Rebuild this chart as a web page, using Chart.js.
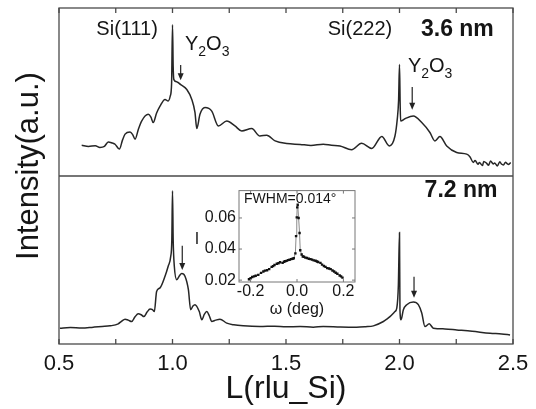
<!DOCTYPE html>
<html>
<head>
<meta charset="utf-8">
<script src="https://cdn.jsdelivr.net/npm/chart.js@4/dist/chart.umd.min.js"></script>
<style>
  body { margin: 0; background: #fff; }
  #wrap { position: relative; width: 536px; height: 409px; }
  #main { position: absolute; left: 0; top: 0; }
  #inset { position: absolute; left: 185px; top: 178px; }
</style>
</head>
<body>
<div id="wrap">
  <canvas id="main" width="536" height="409"></canvas>
  <canvas id="inset" width="180" height="145"></canvas>
</div>
<script>
// datos (L en rlu_Si, intensidad en u.a.)
const xTickLabels = ['0.5', '1.0', '1.5', '2.0', '2.5']

// 3.6 nm (panel de arriba)
const lTop = [0.60, 0.63, 0.66, 0.68, 0.70, 0.717, 0.735, 0.747, 0.766, 0.78, 0.791, 0.813, 0.825, 0.835, 0.85, 0.864,
  0.893, 0.905, 0.915, 0.93, 0.945, 0.967, 0.981, 0.990, 0.996, 1.0, 1.003, 1.006, 1.02, 1.036, 1.063, 1.085, 1.099,
  1.107, 1.121, 1.143, 1.173, 1.202, 1.239, 1.275, 1.305, 1.349, 1.385, 1.415, 1.452, 1.503, 1.562, 1.61, 1.664, 1.70,
  1.738, 1.789, 1.833, 1.878, 1.922, 1.955, 1.980, 1.990, 1.996, 2.0, 2.003, 2.005, 2.024, 2.061, 2.098, 2.134, 2.156,
  2.178, 2.208, 2.252, 2.296, 2.31, 2.325, 2.333, 2.346, 2.352, 2.366, 2.371, 2.384, 2.392, 2.401, 2.413, 2.419, 2.431,
  2.442, 2.449, 2.458, 2.467, 2.474, 2.481, 2.49]
const intTop = [18.3, 17.6, 18.0, 17.0, 17.6, 20.3, 19.6, 18.9, 16.0, 21.5, 24.9, 26.2, 24.5, 21.9, 28.0, 32.7,
  36.7, 35.0, 31.8, 37.5, 41.6, 45.6, 44.6, 47.5, 55, 90, 65, 57.4, 56.0, 54.4, 51.5, 45.6, 37.9,
  28.2, 36.7, 40.7, 38.6, 29.8, 32.7, 29.8, 26.8, 28.2, 23.8, 24.3, 20.9, 19.3, 18.8, 18.2, 18.9, 18.3,
  17.9, 15.6, 19.5, 16.4, 23.5, 17.9, 23.8, 33.7, 45, 66.3, 42, 32.7, 34.1, 35.7, 31.8, 25.9, 20.9,
  23.5, 17.9, 14.0, 13.0, 11.5, 8.1, 9.3, 7.0, 8.0, 6.2, 8.7, 7.5, 6.4, 8.9, 7.2, 7.8, 6.0,
  8.5, 7.1, 6.6, 8.2, 7.4, 6.9, 8.0]

// 7.2 nm (panel de abajo)
const lBot = [0.504, 0.55, 0.60, 0.651, 0.69, 0.725, 0.761, 0.775, 0.791, 0.805, 0.820, 0.835, 0.849, 0.862, 0.874,
  0.888, 0.901, 0.912, 0.920, 0.930, 0.945, 0.967, 0.981, 0.992, 0.997, 1.0, 1.003, 1.008, 1.019, 1.030, 1.041, 1.055,
  1.070, 1.080, 1.090, 1.099, 1.118, 1.129, 1.140, 1.151, 1.162, 1.173, 1.19, 1.209, 1.239, 1.27, 1.312, 1.385, 1.45,
  1.50, 1.562, 1.62, 1.664, 1.74, 1.811, 1.85, 1.885, 1.929, 1.944, 1.958, 1.980, 1.988, 1.995, 2.0, 2.002, 2.007,
  2.017, 2.032, 2.061, 2.083, 2.098, 2.112, 2.131, 2.149, 2.2, 2.252, 2.32, 2.399, 2.45, 2.487]
const intBot = [9.4, 9.8, 9.5, 10.0, 10.4, 10.8, 12.0, 13.5, 14.8, 14.2, 13.4, 16.2, 18.0, 17.4, 16.3,
  19.0, 20.8, 20.4, 19.3, 31.3, 33.4, 40.3, 46.3, 52, 62, 91.2, 62, 46.3, 38.3, 40.5, 41.9, 40.3,
  32.3, 20.4, 22.6, 23.4, 19.3, 14.4, 17.6, 19.3, 16.8, 13.4, 14.2, 14.8, 12.4, 11.4, 10.8, 10.4, 10.6,
  10.2, 10.4, 10.0, 10.4, 10.1, 10.0, 10.3, 10.8, 13.4, 14.8, 16.3, 19.3, 21.4, 35, 66.3, 20.4, 14.4,
  20.4, 23.4, 25.0, 23.4, 18.4, 10.4, 12.0, 9.4, 9.0, 8.4, 7.6, 6.4, 6.0, 5.4]

// inset: rocking curve
const omega = [-0.207, -0.200, -0.193, -0.185, -0.178, -0.167, -0.155, -0.145, -0.138, -0.129, -0.120, -0.109, -0.103,
  -0.097, -0.087, -0.080, -0.073, -0.062, -0.056, -0.051, -0.045, -0.039, -0.032, -0.025, -0.019, -0.014, -0.007,
  -0.004, -0.001, 0.001, 0.003, 0.007, 0.011, 0.014, 0.020, 0.025, 0.030, 0.036, 0.043, 0.051, 0.058, 0.065, 0.072,
  0.080, 0.086, 0.091, 0.101, 0.108, 0.116, 0.123, 0.130, 0.138, 0.145, 0.153, 0.160, 0.167, 0.174, 0.184, 0.190, 0.196]
const insetI = [0.0206, 0.0212, 0.0220, 0.0224, 0.0228, 0.0234, 0.0247, 0.0256, 0.0261, 0.0264, 0.0271, 0.0285, 0.0290,
  0.0297, 0.0305, 0.0309, 0.0315, 0.0311, 0.0318, 0.0321, 0.0324, 0.0329, 0.0331, 0.0335, 0.0338, 0.0341, 0.0372,
  0.0483, 0.0604, 0.0668, 0.0685, 0.0600, 0.0503, 0.0392, 0.0365, 0.0352, 0.0350, 0.0345, 0.0342, 0.0338, 0.0335, 0.0332, 0.0327,
  0.0325, 0.0320, 0.0317, 0.0311, 0.0300, 0.0291, 0.0285, 0.0277, 0.0275, 0.0271, 0.0262, 0.0256, 0.0248, 0.0241, 0.0230, 0.0224, 0.0216]

const fam = "'Liberation Sans', Arial, sans-serif"
Chart.defaults.font.family = fam
Chart.defaults.color = '#151515'

const toPoints = (xs, ys) => xs.map((x, i) => ({ x: x, y: ys[i] }))

function drawY2O3(ctx, x, y) {
  ctx.textAlign = 'left'
  ctx.textBaseline = 'alphabetic'
  const parts = [['Y', 20, 0], ['2', 14, 6], ['O', 20, 0], ['3', 14, 6]]
  parts.forEach(p => {
    ctx.font = p[1] + 'px ' + fam
    ctx.fillText(p[0], x, y + p[2])
    x += ctx.measureText(p[0]).width
  })
}

function drawArrow(ctx, x, y0, y1) {
  ctx.beginPath()
  ctx.moveTo(x, y0)
  ctx.lineTo(x, y1 - 5)
  ctx.stroke()
  ctx.beginPath()
  ctx.moveTo(x - 3, y1 - 7)
  ctx.lineTo(x + 3, y1 - 7)
  ctx.lineTo(x, y1)
  ctx.closePath()
  ctx.fill()
}

// marco, ticks hacia adentro y anotaciones
const framePlugin = {
  id: 'frame',
  afterDraw(chart) {
    const { ctx, chartArea: a, scales } = chart
    const x = scales.x, yTop = scales.yTop, yBot = scales.yBot
    ctx.save()
    ctx.strokeStyle = '#4a4a4a'
    ctx.lineWidth = 1.3
    ctx.strokeRect(a.left, a.top, a.width, a.height)
    ctx.beginPath()
    ctx.moveTo(a.left, yTop.bottom)
    ctx.lineTo(a.right, yTop.bottom)
    x.ticks.forEach(t => {
      const px = x.getPixelForValue(t.value)
      ctx.moveTo(px, a.top)
      ctx.lineTo(px, a.top + 5)
      ctx.moveTo(px, a.bottom)
      ctx.lineTo(px, a.bottom - 5)
    })
    ctx.stroke()

    // titulo eje y
    ctx.save()
    ctx.translate(a.left - 21, (a.top + a.bottom) / 2 - 10)
    ctx.rotate(-Math.PI / 2)
    ctx.font = '31px ' + fam
    ctx.fillStyle = '#151515'
    ctx.textAlign = 'center'
    ctx.textBaseline = 'alphabetic'
    ctx.fillText('Intensity(a.u.)', 0, 0)
    ctx.restore()

    ctx.fillStyle = '#151515'
    ctx.textBaseline = 'middle'
    ctx.textAlign = 'center'
    ctx.font = '20px ' + fam
    ctx.fillText('Si(111)', x.getPixelForValue(0.80), yTop.getPixelForValue(87))
    ctx.fillText('Si(222)', x.getPixelForValue(1.826), yTop.getPixelForValue(87))
    ctx.font = 'bold 23px ' + fam
    ctx.fillText('3.6 nm', x.getPixelForValue(2.255), yTop.getPixelForValue(87))
    ctx.fillText('7.2 nm', x.getPixelForValue(2.271), yBot.getPixelForValue(91))

    drawY2O3(ctx, x.getPixelForValue(1.055), yTop.getPixelForValue(75))
    drawY2O3(ctx, x.getPixelForValue(2.037), yTop.getPixelForValue(62))

    ctx.strokeStyle = '#222'
    ctx.fillStyle = '#222'
    ctx.lineWidth = 1.2
    drawArrow(ctx, x.getPixelForValue(1.036), yTop.getPixelForValue(66), yTop.getPixelForValue(57))
    drawArrow(ctx, x.getPixelForValue(2.056), yTop.getPixelForValue(53), yTop.getPixelForValue(39.5))
    drawArrow(ctx, x.getPixelForValue(1.043), yBot.getPixelForValue(58.5), yBot.getPixelForValue(44))
    drawArrow(ctx, x.getPixelForValue(2.064), yBot.getPixelForValue(40), yBot.getPixelForValue(27.5))
    ctx.restore()
  }
}

const mainChart = new Chart(document.getElementById('main'), {
  type: 'line',
  data: {
    datasets: [
      { label: '3.6 nm', data: toPoints(lTop, intTop), yAxisID: 'yTop', borderColor: '#262626', borderWidth: 1.5, pointRadius: 0, cubicInterpolationMode: 'monotone' },
      { label: '7.2 nm', data: toPoints(lBot, intBot), yAxisID: 'yBot', borderColor: '#262626', borderWidth: 1.5, pointRadius: 0, cubicInterpolationMode: 'monotone' }
    ]
  },
  options: {
    responsive: false,
    animation: false,
    layout: { padding: { top: 8, right: 23, left: 0, bottom: 0 } },
    plugins: { legend: { display: false }, tooltip: { enabled: false } },
    scales: {
      x: {
        type: 'linear', min: 0.5, max: 2.5,
        ticks: {
          stepSize: 0.25, autoSkip: false, maxRotation: 0, padding: 7,
          font: { size: 22 }, color: '#151515',
          callback: v => xTickLabels.find(s => Math.abs(parseFloat(s) - v) < 1e-6) || ''
        },
        grid: { display: false, drawTicks: false },
        border: { display: false },
        title: { display: true, text: 'L(rlu_Si)', font: { size: 32 }, color: '#151515', padding: { top: 0, bottom: 1 } },
        afterFit: s => { s.height = 65 }
      },
      yBot: {
        type: 'linear', min: 0, max: 100, position: 'left', stack: 'panels', stackWeight: 1,
        ticks: { display: false }, grid: { display: false, drawTicks: false }, border: { display: false },
        afterFit: s => { s.width = 59 }
      },
      yTop: {
        type: 'linear', min: 0, max: 100, position: 'left', stack: 'panels', stackWeight: 1,
        ticks: { display: false }, grid: { display: false, drawTicks: false }, border: { display: false },
        afterFit: s => { s.width = 59 }
      }
    }
  },
  plugins: [framePlugin]
})

// inset
const insetPlugin = {
  id: 'insetFrame',
  afterDraw(chart) {
    const { ctx, chartArea: a, scales } = chart
    ctx.save()
    ctx.strokeStyle = '#777'
    ctx.lineWidth = 1
    ctx.strokeRect(a.left, a.top, a.width, a.height)
    ctx.beginPath()
    scales.x.ticks.forEach(t => {
      const px = scales.x.getPixelForValue(t.value)
      ctx.moveTo(px, a.bottom); ctx.lineTo(px, a.bottom - 3)
      ctx.moveTo(px, a.top); ctx.lineTo(px, a.top + 3)
    })
    scales.y.ticks.forEach(t => {
      const py = scales.y.getPixelForValue(t.value)
      ctx.moveTo(a.left, py); ctx.lineTo(a.left + 3, py)
      ctx.moveTo(a.right, py); ctx.lineTo(a.right - 3, py)
    })
    ctx.stroke()
    ctx.fillStyle = '#151515'
    ctx.font = '14px ' + fam
    ctx.textAlign = 'left'
    ctx.textBaseline = 'alphabetic'
    ctx.fillText('FWHM=0.014°', a.left + 5, a.top + 12)
    ctx.font = '16px ' + fam
    ctx.textAlign = 'center'
    ctx.textBaseline = 'middle'
    ctx.fillText('I', a.left - 42, 62)
    ctx.restore()
  }
}

const insetChart = new Chart(document.getElementById('inset'), {
  type: 'scatter',
  data: {
    datasets: [{
      data: toPoints(omega, insetI), showLine: true,
      borderColor: '#8a8a8a', borderWidth: 1,
      pointStyle: 'rect', pointRadius: 1.7, pointBackgroundColor: '#111', pointBorderWidth: 0
    }]
  },
  options: {
    responsive: false,
    animation: false,
    layout: { padding: { top: 7, right: 10, left: 0, bottom: 0 } },
    plugins: { legend: { display: false }, tooltip: { enabled: false } },
    scales: {
      x: {
        min: -0.25, max: 0.25,
        ticks: { stepSize: 0.2, includeBounds: false, maxRotation: 0, padding: 0, font: { size: 16 }, callback: v => v.toFixed(1) },
        grid: { display: false, drawTicks: false },
        border: { display: false },
        title: { display: true, text: 'ω (deg)', font: { size: 16 }, padding: { top: 0, bottom: 4 } },
        afterFit: s => { s.height = 41 }
      },
      y: {
        min: 0.0188, max: 0.0776,
        ticks: { stepSize: 0.02, includeBounds: false, padding: 3, font: { size: 16 }, callback: v => v.toFixed(2) },
        grid: { display: false, drawTicks: false },
        border: { display: false },
        afterFit: s => { s.width = 54 }
      }
    }
  },
  plugins: [insetPlugin]
})
</script>
</body>
</html>
